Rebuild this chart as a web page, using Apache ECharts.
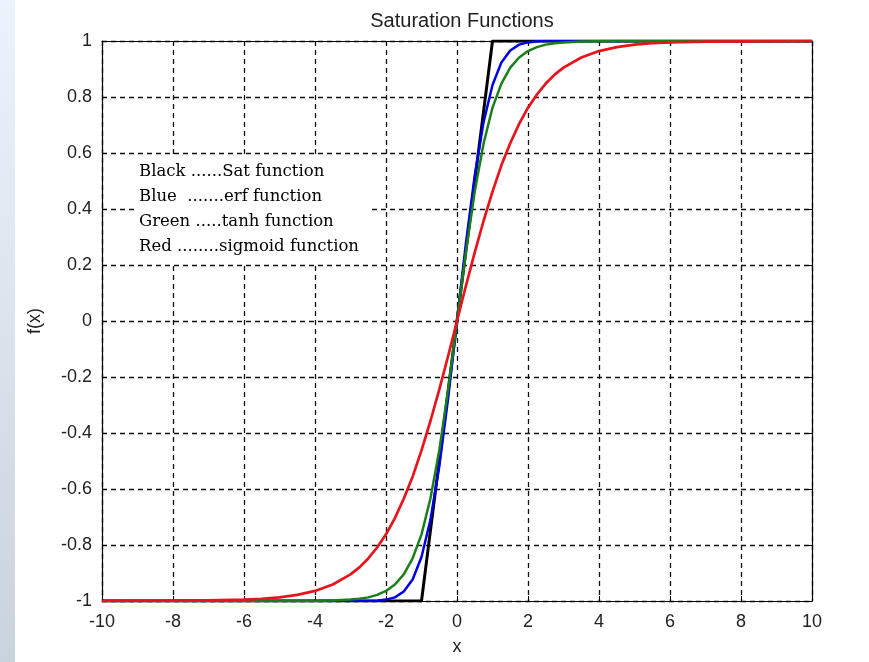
<!DOCTYPE html>
<html>
<head>
<meta charset="utf-8">
<title>Saturation Functions</title>
<script src="https://cdn.jsdelivr.net/npm/echarts@6/dist/echarts.min.js"></script>
<style>
  html, body { margin: 0; padding: 0; background: #fff; }
  #chart { width: 869px; height: 662px; }
</style>
</head>
<body>
<div id="chart"></div>
<script>
// sample points
const xs = [-10, -8, -7, -6, -5.5, -5, -4.5, -4, -3.5, -3, -2.75, -2.5, -2.25, -2, -1.75, -1.5, -1.25, -1,
  -0.75, -0.5, -0.25, 0, 0.25, 0.5, 0.75,
  1, 1.25, 1.5, 1.75, 2, 2.25, 2.5, 2.75, 3, 3.5, 4, 4.5, 5, 5.5, 6, 7, 8, 10];

const satVals = [-1, -1, -1, -1, -1, -1, -1, -1, -1, -1, -1, -1, -1, -1, -1, -1, -1, -1,
  -0.75, -0.5, -0.25, 0, 0.25, 0.5, 0.75,
  1, 1, 1, 1, 1, 1, 1, 1, 1, 1, 1, 1, 1, 1, 1, 1, 1, 1];

const erfVals = [-1, -1, -1, -1, -1, -1, -1, -1, -1, -1, -1, -1, -0.999, -0.995, -0.987, -0.966, -0.923, -0.843,
  -0.711, -0.52, -0.276, 0, 0.276, 0.52, 0.711,
  0.843, 0.923, 0.966, 0.987, 0.995, 0.999, 1, 1, 1, 1, 1, 1, 1, 1, 1, 1, 1, 1];

const tanhVals = [-1, -1, -1, -1, -1, -1, -1, -0.999, -0.998, -0.995, -0.992, -0.987, -0.978, -0.964, -0.941, -0.905, -0.848, -0.762,
  -0.635, -0.462, -0.245, 0, 0.245, 0.462, 0.635,
  0.762, 0.848, 0.905, 0.941, 0.964, 0.978, 0.987, 0.992, 0.995, 0.998, 0.999, 1, 1, 1, 1, 1, 1, 1];

const sigVals = [-1, -0.999, -0.998, -0.995, -0.992, -0.987, -0.978, -0.964, -0.941, -0.905, -0.88, -0.848, -0.809, -0.762, -0.704, -0.635, -0.556, -0.462,
  -0.358, -0.245, -0.125, 0, 0.125, 0.245, 0.358,
  0.462, 0.556, 0.635, 0.704, 0.762, 0.809, 0.848, 0.88, 0.905, 0.941, 0.964, 0.978, 0.987, 0.992, 0.995, 0.998, 0.999, 1];

const legendLines = [
  'Black ......Sat function',
  'Blue  .......erf function',
  'Green .....tanh function',
  'Red ........sigmoid function'
];

const labelFont = 'Liberation Sans';
const pair = vals => xs.map((x, i) => [x, vals[i]]);

const boxAxis = {
  axisLine: { show: true, onZero: false, lineStyle: { color: '#000', width: 1.2 } },
  axisTick: { show: true, inside: true, length: 5, lineStyle: { color: '#000' } },
  axisLabel: { show: false },
  splitLine: { show: false }
};

var chartDom = document.getElementById('chart');
var myChart = echarts.init(chartDom);

var option = {
  animation: false,
  backgroundColor: '#fff',
  title: {
    text: 'Saturation Functions',
    left: 457,
    top: 6,
    textAlign: 'center',
    textStyle: { color: '#222', fontSize: 20, fontWeight: 'normal', fontFamily: labelFont }
  },
  grid: { left: 102, right: 57, top: 41, bottom: 61 },
  xAxis: [
    {
      type: 'value', min: -10, max: 10, interval: 2,
      name: 'x', nameLocation: 'middle', nameGap: 37,
      nameTextStyle: { color: '#222', fontSize: 18, fontFamily: labelFont },
      axisLine: { show: true, onZero: false, lineStyle: { color: '#000', width: 1.2 } },
      axisTick: { show: true, inside: true, length: 5, lineStyle: { color: '#000' } },
      axisLabel: { color: '#222', fontSize: 18, fontFamily: labelFont, margin: 12 },
      splitLine: { show: true, lineStyle: { color: '#111', width: 1.3, type: [5, 4] } }
    },
    Object.assign({ type: 'value', min: -10, max: 10, interval: 2, position: 'top' }, boxAxis)
  ],
  yAxis: [
    {
      type: 'value', min: -1, max: 1, interval: 0.2,
      name: 'f(x)', nameLocation: 'middle', nameGap: 58,
      nameTextStyle: { color: '#222', fontSize: 18, fontFamily: labelFont },
      axisLine: { show: true, onZero: false, lineStyle: { color: '#000', width: 1.2 } },
      axisTick: { show: true, inside: true, length: 5, lineStyle: { color: '#000' } },
      axisLabel: { color: '#222', fontSize: 18, fontFamily: labelFont, margin: 10 },
      splitLine: { show: true, lineStyle: { color: '#111', width: 1.3, type: [5, 4] } }
    },
    Object.assign({ type: 'value', min: -1, max: 1, interval: 0.2, position: 'right' }, boxAxis)
  ],
  series: [
    { name: 'Sat', type: 'line', data: pair(satVals), showSymbol: false, z: 3,
      lineStyle: { color: '#000', width: 3 } },
    { name: 'erf', type: 'line', data: pair(erfVals), showSymbol: false, z: 4,
      lineStyle: { color: '#0000e6', width: 2.5 } },
    { name: 'tanh', type: 'line', data: pair(tanhVals), showSymbol: false, z: 5,
      lineStyle: { color: '#1a7f1a', width: 2.5 } },
    { name: 'sigmoid', type: 'line', data: pair(sigVals), showSymbol: false, z: 6,
      lineStyle: { color: '#e8141c', width: 2.7 } }
  ],
  graphic: [
    {
      type: 'rect', left: 0, top: 0, z: 100,
      shape: { width: 15, height: 662 },
      style: {
        fill: new echarts.graphic.LinearGradient(0, 0, 0, 1, [
          { offset: 0, color: '#edf3fb' },
          { offset: 1, color: '#c9d3de' }
        ])
      }
    },
    {
      type: 'rect', left: 135, top: 157, z: 100,
      shape: { width: 233, height: 105 },
      style: { fill: '#fff' }
    }
  ].concat(legendLines.map((t, i) => ({
    type: 'text', left: 139, top: 163 + i * 25, z: 101,
    style: { text: t, fill: '#000', font: '16.5px "DejaVu Serif"' }
  })))
};

option && myChart.setOption(option);
</script>
</body>
</html>
